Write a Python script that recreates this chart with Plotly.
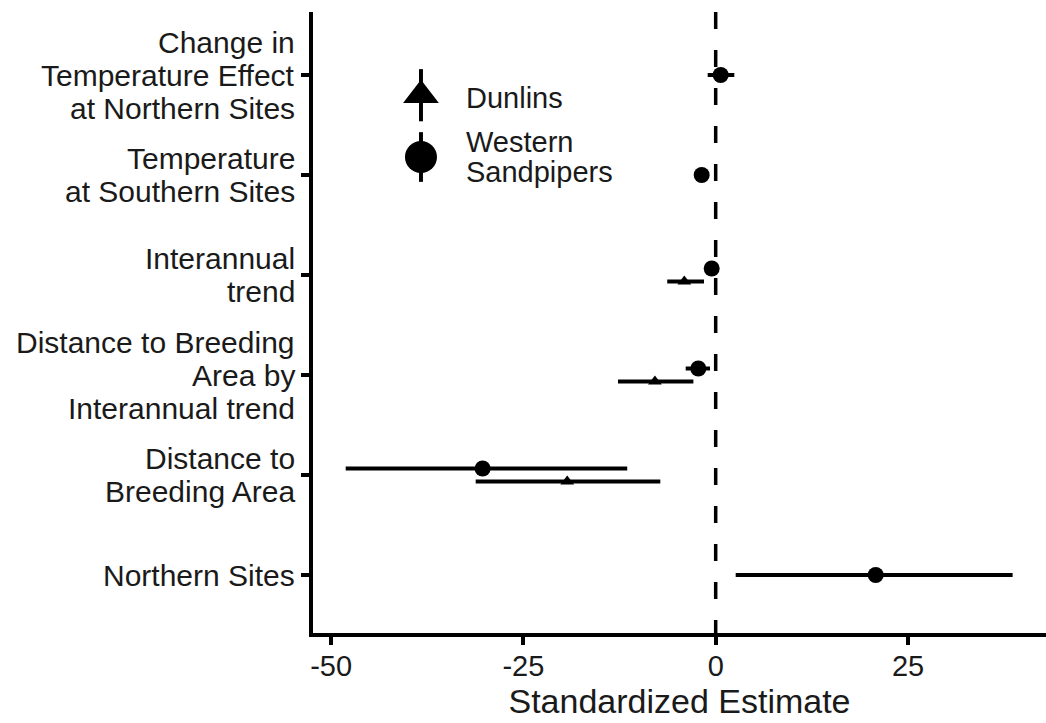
import plotly.graph_objects as go

# Model terms, bottom (1) to top (6); "\n" marks a line break in the label
terms = [
    "Northern Sites",
    "Distance to\nBreeding Area",
    "Distance to Breeding\nArea by\nInterannual trend",
    "Interannual\ntrend",
    "Temperature\nat Southern Sites",
    "Change in\nTemperature Effect\nat Northern Sites",
]

# Western Sandpipers: estimate and 95% interval for every term
ws_terms = terms
ws_est = [20.8, -30.3, -2.26, -0.52, -1.82, 0.65]
ws_lo = [2.6, -48.1, -3.9, -1.1, -2.5, -1.04]
ws_hi = [38.6, -11.5, -0.74, 0.1, -1.2, 2.42]

# Dunlins: only three terms were estimated
dl_terms = [terms[1], terms[2], terms[3]]
dl_est = [-19.3, -7.9, -4.08]
dl_lo = [-31.2, -12.7, -6.3]
dl_hi = [-7.2, -2.9, -1.52]

x_ticks = [-50, -25, 0, 25]
x_tick_text = ["-50", "-25", "0", "25"]

FONT = "Liberation Sans, Arial, Helvetica, sans-serif"
INK = "black"
TXT = "#1a1a1a"
DODGE = 0.065
LINE_W = 3.5

pos = {t: i + 1 for i, t in enumerate(terms)}


def ypos(term_list, shift, other):
    return [pos[t] + (shift if t in other else 0.0) for t in term_list]


ws_y = ypos(ws_terms, DODGE, dl_terms)
dl_y = ypos(dl_terms, -DODGE, ws_terms)

fig = go.Figure()

fig.add_trace(go.Scatter(
    x=dl_est, y=dl_y, mode="markers",
    marker=dict(symbol="triangle-up", size=12, color=INK),
    error_x=dict(type="data", symmetric=False,
                 array=[h - e for h, e in zip(dl_hi, dl_est)],
                 arrayminus=[e - l for e, l in zip(dl_est, dl_lo)],
                 thickness=4, width=0, color=INK),
    showlegend=False, hoverinfo="skip",
))
fig.add_trace(go.Scatter(
    x=ws_est, y=ws_y, mode="markers",
    marker=dict(symbol="circle", size=16, color=INK),
    error_x=dict(type="data", symmetric=False,
                 array=[h - e for h, e in zip(ws_hi, ws_est)],
                 arrayminus=[e - l for e, l in zip(ws_est, ws_lo)],
                 thickness=4, width=0, color=INK),
    showlegend=False, hoverinfo="skip",
))

# Legend keys drawn on a hidden unit-square overlay
legend_items = [
    ("Dunlins", "triangle-up", 31, 0.866, 0.042),
    ("Western<br>Sandpipers", "circle", 32, 0.7665, 0.040),
]
LEG_X = 0.1473
LEG_TXT_X = 0.206
LEG_FONT = 29
for name, sym, size, ly, half in legend_items:
    fig.add_trace(go.Scatter(
        x=[LEG_X], y=[ly], xaxis="x2", yaxis="y2", mode="markers",
        marker=dict(symbol=sym, size=size, color=INK),
        error_y=dict(type="data", array=[half], thickness=4, width=0, color=INK),
        showlegend=False, hoverinfo="skip",
    ))

annotations = []
annotations.append(dict(
    text="Dunlins", xref="x2", yref="y2", x=LEG_TXT_X, y=0.8615,
    xanchor="left", yanchor="middle", showarrow=False,
    font=dict(family=FONT, size=LEG_FONT, color=TXT),
))
for j, line in enumerate(["Western", "Sandpipers"]):
    annotations.append(dict(
        text=line, xref="x2", yref="y2", x=LEG_TXT_X, y=0.7665,
        yshift=(0.5 - j) * 29.5,
        xanchor="left", yanchor="middle", showarrow=False,
        font=dict(family=FONT, size=LEG_FONT, color=TXT),
    ))

# Multi-line y-axis labels with tight line spacing
for t in terms:
    lines = t.split("\n")
    n = len(lines)
    for j, line in enumerate(lines):
        annotations.append(dict(
            text=line, xref="paper", yref="y", x=0, y=pos[t],
            xanchor="right", yanchor="middle",
            xshift=-16, yshift=((n - 1) / 2 - j) * 33,
            showarrow=False,
            font=dict(family=FONT, size=30, color=TXT),
        ))

fig.update_layout(
    width=1046, height=723,
    margin=dict(l=313, r=0, t=12, b=90),
    paper_bgcolor="white", plot_bgcolor="white",
    font=dict(family=FONT, color=TXT),
    xaxis=dict(
        range=[-52.35, 42.94], tickmode="array",
        tickvals=x_ticks, ticktext=x_tick_text,
        ticks="outside", ticklen=8, tickwidth=LINE_W, tickcolor=INK,
        showline=True, linewidth=LINE_W, linecolor=INK,
        showgrid=False, zeroline=False,
        ticklabelstandoff=-4,
        tickfont=dict(family=FONT, size=29, color=TXT),
        title=dict(text="Standardized Estimate", standoff=6,
                   font=dict(family=FONT, size=34, color=TXT)),
    ),
    yaxis=dict(
        range=[0.42, 6.63], tickmode="array",
        tickvals=list(range(1, len(terms) + 1)),
        showticklabels=False,
        ticks="outside", ticklen=8, tickwidth=LINE_W, tickcolor=INK,
        showline=True, linewidth=LINE_W, linecolor=INK,
        showgrid=False, zeroline=False,
    ),
    xaxis2=dict(overlaying="x", range=[0, 1], visible=False, fixedrange=True),
    yaxis2=dict(overlaying="y", range=[0, 1], visible=False, fixedrange=True),
    shapes=[dict(
        type="line", xref="x", yref="paper", x0=0, x1=0, y0=1, y1=0,
        line=dict(color=INK, width=LINE_W, dash="17px,21px"), layer="below",
    )],
    annotations=annotations,
)

fig.write_html("out.html")
